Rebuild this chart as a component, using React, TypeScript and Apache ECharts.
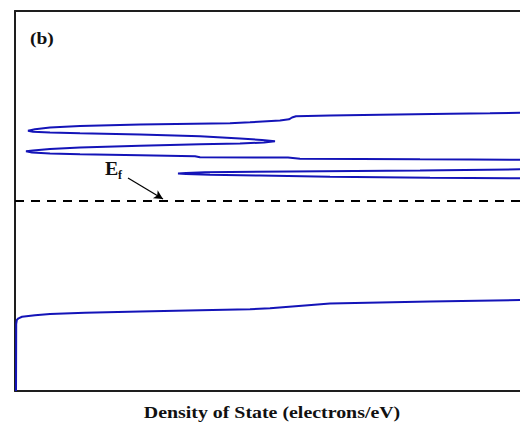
import React, { useEffect, useRef } from "react";
import * as echarts from "echarts";

// Total density of states, energy (eV, relative to E_f) on the vertical axis.
const energy = [
  5.0, 2.658, 2.342, 2.324, 2.308, 2.295, 2.268, 2.25, 2.229, 2.197, 2.15, 2.118, 2.071, 2.047,
  2.013, 1.974, 1.934, 1.889, 1.847, 1.821, 1.8, 1.782, 1.753, 1.703, 1.645, 1.605, 1.571,
  1.537, 1.516, 1.492, 1.453, 1.405, 1.368, 1.332, 1.308, 1.279, 1.253, 1.229, 1.203, 1.179,
  1.153, 1.142, 1.111, 1.097, 1.092, 1.084, 1.079, 1.0, 0.895, 0.839, 0.834, 0.803, 0.779,
  0.755, 0.739, 0.724, 0.708, 0.692, 0.668, 0.639, 0.611, 0.597, 0.592, 0.421, -2.474,
  -2.595, -2.605, -2.647, -2.697, -2.75, -2.824, -2.847, -2.876, -2.908, -2.939, -2.974,
  -3.008, -3.047, -3.087, -3.132, -3.237, -5.0,
];
const dos = [
  30, 34.25, 27.25, 25.25, 23.75, 21.75, 18.25, 15.75, 14.05, 13.85, 13.7, 13.25, 11.75, 10.75,
  6.25, 3.25, 1.75, 1.0, 0.65, 0.9, 1.75, 3.25, 6.25, 9.25, 11.25, 12.35, 13.0,
  12.45, 11.25, 9.25, 6.25, 3.25, 1.75, 0.9, 0.55, 0.85, 1.75, 3.25, 6.25, 9.0,
  9.25, 13.65, 14.25, 20.25, 22.75, 25.25, 27.25, 34.25, 34.25, 27.25, 25.25, 20.25, 13.75,
  9.5, 8.55, 8.15, 8.55, 9.75, 12.25, 15.75, 20.75, 25.25, 27.25, 34.25, 34.25,
  27.25, 25.25, 20.75, 15.75, 14.5, 12.75, 11.75, 9.25, 6.25, 3.5, 1.75,
  1.0, 0.35, 0.175, 0.09, 0.06, 0.05,
];

const fermiEnergy = 0;
const dosRange = [0, 25.4];
const energyRange = [-5, 5];
// Arrow pointing at the Fermi level: [dos, energy] start and end.
const arrowFrom = [5.65, 0.605];
const arrowTo = [7.4, 0.053];

const serif = "Times New Roman, Liberation Serif, serif";
const frameLine = { show: true, onZero: false, lineStyle: { color: "#1e1e1e", width: 2 } };

export default function App() {
  const ref = useRef<HTMLDivElement>(null);

  useEffect(() => {
    if (!ref.current) return;
    const chart = echarts.init(ref.current, undefined, { renderer: "svg" });
    const curve = energy.map((e, i) => [dos[i], e]);

    const hiddenParts = {
      axisTick: { show: false },
      axisLabel: { show: false },
      splitLine: { show: false },
    };

    chart.setOption({
      animation: false,
      backgroundColor: "#ffffff",
      grid: {
        left: 15,
        top: 11,
        width: 508,
        height: 380,
        show: false,
        outerBoundsMode: "none",
      },
      xAxis: [
        {
          type: "value",
          position: "bottom",
          min: dosRange[0],
          max: dosRange[1],
          axisLine: frameLine,
          ...hiddenParts,
        },
        {
          type: "value",
          position: "top",
          min: dosRange[0],
          max: dosRange[1],
          axisLine: frameLine,
          ...hiddenParts,
        },
      ],
      yAxis: {
        type: "value",
        min: energyRange[0],
        max: energyRange[1],
        axisLine: frameLine,
        ...hiddenParts,
      },
      series: [
        {
          type: "line",
          data: curve,
          showSymbol: false,
          clip: true,
          lineStyle: { color: "#1414b8", width: 2 },
          z: 3,
        },
        {
          type: "line",
          data: [
            [dosRange[0], fermiEnergy],
            [dosRange[1], fermiEnergy],
          ],
          showSymbol: false,
          lineStyle: { color: "#000000", width: 1.8, type: [9, 7] },
          z: 2,
          markLine: {
            silent: true,
            symbol: ["none", "arrow"],
            symbolSize: [7, 9],
            label: { show: false },
            lineStyle: { color: "#000000", width: 1.2, type: "solid" },
            data: [[{ coord: arrowFrom }, { coord: arrowTo }]],
          },
        },
      ],
      graphic: [
        {
          type: "text",
          x: 30,
          y: 30,
          scaleX: 1.15,
          style: {
            text: "(b)",
            fontFamily: serif,
            fontWeight: "bold",
            fontSize: 17,
            fill: "#111111",
          },
        },
        {
          type: "text",
          x: 105,
          y: 159,
          scaleX: 1.05,
          style: {
            text: "E",
            fontFamily: serif,
            fontWeight: "bold",
            fontSize: 19,
            fill: "#111111",
          },
        },
        {
          type: "text",
          x: 118,
          y: 169,
          style: {
            text: "f",
            fontFamily: serif,
            fontWeight: "bold",
            fontSize: 12,
            fill: "#111111",
          },
        },
        {
          type: "text",
          x: 272,
          y: 404,
          scaleX: 1.17,
          style: {
            text: "Density of State (electrons/eV)",
            fontFamily: serif,
            fontWeight: "bold",
            fontSize: 17,
            fill: "#111111",
            align: "center",
          },
        },
      ],
    });

    return () => chart.dispose();
  }, []);

  return (
    <div
      ref={ref}
      style={{
        position: "fixed",
        left: 0,
        top: 0,
        width: 520,
        height: 423,
        background: "#fff",
      }}
    />
  );
}
